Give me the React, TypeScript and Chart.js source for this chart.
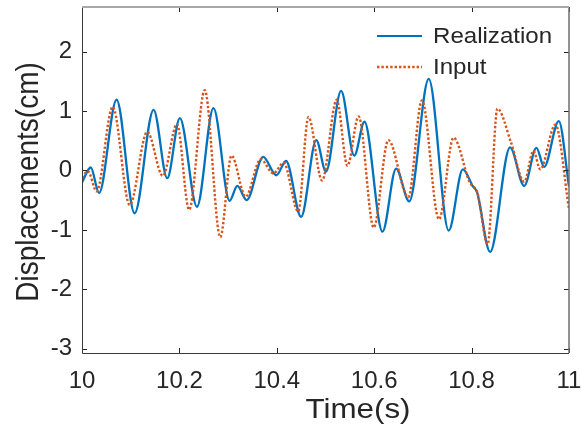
import React, { useEffect, useRef } from "react";
import { Chart, registerables } from "chart.js";

Chart.register(...registerables);

// ---- Data ----
const realizationTime = [
  10.0, 10.018, 10.035, 10.071, 10.108, 10.147, 10.175, 10.201, 10.236, 10.27,
  10.303, 10.319, 10.338, 10.372, 10.399, 10.419, 10.45, 10.481, 10.501, 10.532,
  10.559, 10.58, 10.617, 10.645, 10.672, 10.712, 10.753, 10.782, 10.803, 10.811,
  10.838, 10.879, 10.908, 10.933, 10.949, 10.979, 11.0,
];
const realizationValues = [
  -0.2, 0.05, -0.38, 1.19, -0.72, 1.02, -0.13, 0.88, -0.61, 1.05,
  -0.51, -0.26, -0.5, 0.23, -0.08, 0.16, -0.78, 0.51, -0.02, 1.34,
  0.25, 0.82, -1.03, 0.03, -0.52, 1.54, -1.01, 0.02, -0.27, -0.36,
  -1.37, 0.39, -0.26, 0.38, 0.06, 0.83, -0.27,
];

const inputTime = [
  10.0, 10.012, 10.03, 10.063, 10.098, 10.134, 10.166, 10.195, 10.22, 10.252,
  10.284, 10.307, 10.336, 10.367, 10.393, 10.414, 10.444, 10.465, 10.493, 10.523,
  10.545, 10.568, 10.599, 10.629, 10.67, 10.698, 10.733, 10.763, 10.796, 10.812,
  10.833, 10.853, 10.881, 10.908, 10.927, 10.941, 10.972, 11.0,
];
const inputValues = [
  -0.12, -0.01, -0.35, 1.07, -0.58, 0.65, -0.09, 0.78, -0.66, 1.35,
  -1.12, 0.25, -0.44, 0.19, -0.05, 0.13, -0.69, 0.9, -0.17, 1.19,
  0.08, 0.91, -0.96, 0.51, -0.45, 1.18, -0.82, 0.55, -0.2, -0.38,
  -1.24, 1.04, 0.47, -0.19, 0.33, 0.02, 0.77, -0.65,
];

const seriesNames = ["Realization", "Input"];
const seriesColors = ["#0072BD", "#D95319"];

const xTickValues = [10, 10.2, 10.4, 10.6, 10.8, 11];
const xTickLabels = ["10", "10.2", "10.4", "10.6", "10.8", "11"];
const yTickValues = [-3, -2, -1, 0, 1, 2];
const yTickLabels = ["-3", "-2", "-1", "0", "1", "2"];

const xTitle = "Time(s)";
const yTitle = "Displacements(cm)";

const X_MIN = 10;
const X_MAX = 11;
const Y_MIN = -3.07;
const Y_MAX = 2.75;

const TEXT = "#262626";
const FONT = "'Liberation Sans', Arial, sans-serif";
const STRETCH = 1.12;

const framePlugin = {
  id: "matlabFrame",
  afterDraw(chart: any) {
    const { ctx, chartArea: a, scales } = chart;
    const xs = scales.x;
    const ys = scales.y;
    ctx.save();

    // inward tick marks
    ctx.strokeStyle = TEXT;
    ctx.lineWidth = 1;
    ctx.beginPath();
    for (const v of xTickValues) {
      const px = Math.round(xs.getPixelForValue(v)) + 0.5;
      ctx.moveTo(px, a.bottom);
      ctx.lineTo(px, a.bottom - 5);
      ctx.moveTo(px, a.top);
      ctx.lineTo(px, a.top + 5);
    }
    for (const v of yTickValues) {
      const py = Math.round(ys.getPixelForValue(v)) + 0.5;
      ctx.moveTo(a.left, py);
      ctx.lineTo(a.left + 5, py);
      ctx.moveTo(a.right, py);
      ctx.lineTo(a.right - 5, py);
    }
    ctx.stroke();

    // box
    ctx.strokeStyle = "#3a3a3a";
    ctx.lineWidth = 1;
    ctx.beginPath();
    ctx.moveTo(Math.round(a.left) + 0.5, a.top);
    ctx.lineTo(Math.round(a.left) + 0.5, Math.round(a.bottom) + 0.5);
    ctx.lineTo(a.right, Math.round(a.bottom) + 0.5);
    ctx.stroke();
    ctx.strokeStyle = "#6e6e6e";
    ctx.lineWidth = 1.5;
    ctx.beginPath();
    ctx.moveTo(a.right, a.bottom);
    ctx.lineTo(a.right, a.top);
    ctx.stroke();
    ctx.strokeStyle = "#a8a8a8";
    ctx.lineWidth = 2;
    ctx.beginPath();
    ctx.moveTo(a.left, a.top);
    ctx.lineTo(a.right, a.top);
    ctx.stroke();

    // legend
    const lx0 = a.right - 192;
    const lx1 = lx0 + 45;
    const rows = [a.top + 29, a.top + 60];
    seriesNames.forEach((name, i) => {
      ctx.strokeStyle = seriesColors[i];
      ctx.lineWidth = i === 0 ? 2.2 : 2.4;
      ctx.setLineDash(i === 0 ? [] : [2.4, 2]);
      ctx.beginPath();
      ctx.moveTo(lx0, rows[i]);
      ctx.lineTo(lx1, rows[i]);
      ctx.stroke();
      ctx.setLineDash([]);
      ctx.save();
      ctx.translate(lx1 + 11, rows[i] + 1);
      ctx.scale(STRETCH, 1);
      ctx.font = `21.5px ${FONT}`;
      ctx.textBaseline = "middle";
      ctx.textAlign = "left";
      ctx.fillStyle = TEXT;
      ctx.fillText(name, 0, 0);
      ctx.restore();
    });

    // axis titles
    ctx.fillStyle = TEXT;
    ctx.font = `28px ${FONT}`;
    ctx.textAlign = "center";
    ctx.textBaseline = "middle";
    ctx.save();
    ctx.translate(358, 410);
    ctx.scale(STRETCH, 1);
    ctx.fillText(xTitle, 0, 0);
    ctx.restore();
    ctx.save();
    ctx.translate(29, (a.top + a.bottom) / 2 + 2);
    ctx.rotate(-Math.PI / 2);
    ctx.scale(1, STRETCH);
    ctx.fillText(yTitle, 0, 0);
    ctx.restore();

    ctx.restore();
  },
};

export default function App() {
  const canvasRef = useRef<HTMLCanvasElement | null>(null);

  useEffect(() => {
    document.body.style.margin = "0";
    const canvas = canvasRef.current;
    if (!canvas) return;
    const chart = new Chart(canvas, {
      type: "line",
      data: {
        datasets: [
          {
            label: seriesNames[0],
            data: realizationTime.map((t, i) => ({ x: t, y: realizationValues[i] })),
            borderColor: seriesColors[0],
            borderWidth: 2.3,
            pointRadius: 0,
            cubicInterpolationMode: "monotone",
            fill: false,
            order: 2,
          },
          {
            label: seriesNames[1],
            data: inputTime.map((t, i) => ({ x: t, y: inputValues[i] })),
            borderColor: seriesColors[1],
            borderWidth: 2.4,
            borderDash: [2.4, 2],
            pointRadius: 0,
            cubicInterpolationMode: "monotone",
            fill: false,
            order: 1,
          },
        ],
      },
      options: {
        responsive: false,
        animation: false,
        devicePixelRatio: 1,
        layout: { padding: { top: 7, right: 12, left: 0, bottom: 0 } },
        plugins: {
          legend: { display: false },
          tooltip: { enabled: false },
          title: { display: false },
        },
        scales: {
          x: {
            type: "linear",
            min: X_MIN,
            max: X_MAX,
            grid: { display: false, drawTicks: false },
            border: { display: false },
            afterBuildTicks: (scale: any) => {
              scale.ticks = xTickValues.map((v) => ({ value: v }));
            },
            afterFit: (scale: any) => {
              scale.height = 79;
              scale.paddingLeft = 0;
              scale.paddingRight = 0;
              scale.paddingTop = 0;
              scale.paddingBottom = 0;
            },
            ticks: {
              autoSkip: false,
              maxRotation: 0,
              minRotation: 0,
              padding: 14,
              color: TEXT,
              font: { family: FONT, size: 24 },
              callback: (_v: any, i: number) => xTickLabels[i],
            },
          },
          y: {
            type: "linear",
            min: Y_MIN,
            max: Y_MAX,
            grid: { display: false, drawTicks: false },
            border: { display: false },
            afterBuildTicks: (scale: any) => {
              scale.ticks = yTickValues.map((v) => ({ value: v }));
            },
            afterFit: (scale: any) => {
              scale.width = 82;
              scale.paddingLeft = 0;
              scale.paddingRight = 0;
              scale.paddingTop = 0;
              scale.paddingBottom = 0;
            },
            ticks: {
              autoSkip: false,
              padding: 10,
              color: TEXT,
              font: { family: FONT, size: 24 },
              callback: (_v: any, i: number) => yTickLabels[i],
            },
          },
        },
      },
      plugins: [framePlugin],
    });
    return () => chart.destroy();
  }, []);

  return (
    <div style={{ width: 581, height: 432, background: "#fff" }}>
      <canvas ref={canvasRef} width={581} height={432} style={{ display: "block" }} />
    </div>
  );
}
